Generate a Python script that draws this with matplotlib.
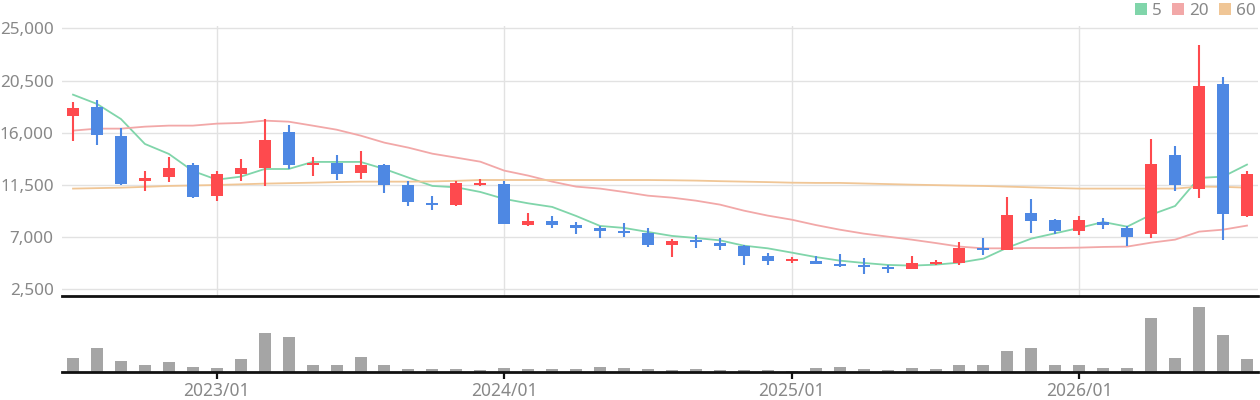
import matplotlib
matplotlib.use("Agg")
import matplotlib.pyplot as plt
from matplotlib.patches import Patch
from matplotlib.ticker import FuncFormatter

plt.rcParams['font.family'] = ['Noto Sans', 'DejaVu Sans']

# ---- data (monthly, 2022/07 .. 2026/08) ----
months = []
for y in range(2022, 2027):
    for m in range(1, 13):
        if (y == 2022 and m < 7) or (y == 2026 and m > 8):
            continue
        months.append(f"{y}/{m:02d}")

opens = [17470, 18220, 15720, 11870, 12210, 13220, 10570, 12470, 12990, 16060,
         13250, 13390, 12560, 13220, 11490, 9970, 9800, 11520, 11580, 8070,
         8390, 8040, 7790, 7560, 7350, 6350, 6750, 6490, 6230, 5370,
         4970, 4940, 4680, 4600, 4450, 4280, 4680, 4770, 6060, 5920,
         9080, 8470, 7560, 8300, 7790, 7300, 14080, 11180, 20200, 8850]
highs = [18620, 18820, 16410, 12700, 13910, 13390, 12700, 13730, 17180, 16670,
         13910, 14080, 14420, 13300, 11840, 10540, 11840, 12010, 11840, 9080,
         8820, 8300, 7960, 8220, 7790, 6840, 7180, 6920, 6320, 5630,
         5280, 5370, 5540, 5200, 4600, 5370, 5030, 6580, 6920, 10460,
         10290, 8560, 8820, 8650, 7960, 15460, 14860, 23560, 20800, 12700]
lows = [15320, 14970, 11520, 11000, 11750, 10400, 10140, 11840, 11440, 12900,
        12300, 11950, 12040, 10830, 9710, 9340, 9710, 11440, 8160, 7990,
        7790, 7270, 6920, 7010, 6150, 5280, 6060, 5890, 4600, 4600,
        4770, 4680, 4420, 3820, 3910, 4280, 4600, 4600, 5460, 5920,
        7380, 7300, 7210, 7730, 6230, 6950, 11000, 10400, 6780, 8760]
closes = [18130, 15830, 11610, 12070, 12960, 10490, 12440, 12960, 15370, 13250,
          13420, 12470, 13220, 11520, 10060, 9800, 11670, 11670, 8160, 8390,
          8070, 7790, 7560, 7380, 6350, 6660, 6610, 6260, 5370, 4940,
          5110, 4680, 4510, 4420, 4280, 4770, 4850, 6060, 5890, 8910,
          8420, 7560, 8470, 8070, 7040, 13300, 11520, 20030, 9020, 12440]
volumes = [43, 73, 34, 22, 31, 16, 13, 40, 118, 106,
           22, 22, 46, 22, 10, 10, 10, 7, 13, 10,
           10, 10, 16, 13, 10, 7, 10, 7, 7, 7,
           4, 13, 16, 10, 7, 13, 10, 22, 22, 64,
           73, 22, 22, 13, 13, 163, 43, 196, 112, 40]
ma5 = [19280, 18480, 17180, 15030, 14170, 12700, 11950, 12210, 12870, 12870,
       13480, 13480, 13480, 12870, 12130, 11410, 11290, 10890, 10290, 9910,
       9600, 8820, 7960, 7790, 7440, 7100, 6920, 6720, 6260, 6030,
       5660, 5280, 4970, 4770, 4600, 4540, 4620, 4800, 5140, 6090,
       6870, 7330, 7790, 8300, 7900, 8930, 9680, 12100, 12210, 13250]
ma20 = [16180, 16350, 16350, 16520, 16610, 16610, 16780, 16840, 17040, 16950,
        16610, 16260, 15750, 15140, 14710, 14190, 13850, 13500, 12730, 12300,
        11780, 11350, 11180, 10890, 10570, 10400, 10140, 9800, 9280, 8850,
        8500, 8040, 7640, 7300, 7040, 6780, 6490, 6180, 6030, 6030,
        6060, 6060, 6090, 6150, 6180, 6520, 6780, 7470, 7640, 7990]
ma60 = [11180, 11220, 11260, 11330, 11410, 11450, 11490, 11550, 11610, 11650,
        11690, 11740, 11780, 11780, 11780, 11800, 11850, 11920, 11920, 11920,
        11920, 11920, 11920, 11920, 11920, 11900, 11870, 11820, 11780, 11740,
        11690, 11670, 11670, 11620, 11570, 11520, 11480, 11440, 11410, 11350,
        11290, 11230, 11180, 11180, 11180, 11180, 11180, 11350, 11330, 11260]
ma_labels = ["5", "20", "60"]
y_ticks = [2500, 7000, 11500, 16000, 20500, 25000]

UP = "#fe4a4e"
DOWN = "#4e88e3"
MA_COLORS = ["#80d5aa", "#f2a8a8", "#f0c696"]
GRID = "#e2e2e2"
TXT = "#888888"

W, H = 1260, 400
fig = plt.figure(figsize=(W / 100, H / 100), dpi=100)
x0, x1 = 62, 1258
ax = fig.add_axes([x0 / W, 1 - 296.3 / H, (x1 - x0) / W, (296.3 - 26) / H])
axv = fig.add_axes([x0 / W, 1 - 372 / H, (x1 - x0) / W, (372 - 297.5) / H])

n = len(months)
xs = list(range(n))
jan_idx = [i for i, mth in enumerate(months) if mth.endswith("/01")]
jan_lab = [months[i] for i in jan_idx]

# moving averages
for vals, col in zip([ma5, ma20, ma60], MA_COLORS):
    ax.plot(xs, vals, color=col, lw=1.3, zorder=2, solid_joinstyle="round")

# candles
cols = [UP if c >= o else DOWN for o, c in zip(opens, closes)]
ax.vlines(xs, lows, highs, colors=cols, lw=1.5, zorder=3)
bottoms = [min(o, c) for o, c in zip(opens, closes)]
heights = [max(abs(c - o), 120) for o, c in zip(opens, closes)]
ax.bar(xs, heights, bottom=bottoms, width=0.5, color=cols, lw=0, zorder=4)

ax.set_xlim(-0.46, n - 1 + 0.46)
ybot = 2500 - (296.3 - 289.3) * 4500 / 52
ytop = 25000 + (28.3 - 26) * 4500 / 52
ax.set_ylim(ybot, ytop)
ax.set_yticks(y_ticks)
ax.yaxis.set_major_formatter(FuncFormatter(lambda v, p: f"{int(v):,}"))
ax.tick_params(axis="y", length=0, pad=6, labelsize=12.3, labelcolor=TXT)
ax.set_xticks(jan_idx)
ax.tick_params(axis="x", length=0, labelbottom=False)
ax.grid(True, color=GRID, lw=1.0, zorder=0)
ax.set_axisbelow(True)
for s in ["top", "left", "right"]:
    ax.spines[s].set_visible(False)
ax.spines["bottom"].set_color("#111111")
ax.spines["bottom"].set_linewidth(2.0)

# volume
axv.bar(xs, volumes, width=0.5, color="#a5a5a5", lw=0, zorder=2)
axv.set_xlim(ax.get_xlim())
axv.set_ylim(0, 223)
axv.set_yticks([])
axv.set_xticks(jan_idx)
axv.set_xticklabels(jan_lab)
axv.tick_params(axis="x", length=5, width=1.6, color="#111111", labelsize=12.5,
                labelcolor=TXT, pad=2)
for s in ["top", "left", "right"]:
    axv.spines[s].set_visible(False)
axv.spines["bottom"].set_color("#111111")
axv.spines["bottom"].set_linewidth(2.0)

handles = [Patch(facecolor=c, edgecolor="none") for c in MA_COLORS]
fig.legend(handles, ma_labels, loc="upper right", bbox_to_anchor=(0.999, 1.0),
           ncol=3, frameon=False, handlelength=0.7, handleheight=0.7,
           handletextpad=0.3, columnspacing=0.6, fontsize=12.3, labelcolor=TXT,
           borderaxespad=0.0, borderpad=0.15)

fig.savefig("out.png", dpi=100, facecolor="white")
